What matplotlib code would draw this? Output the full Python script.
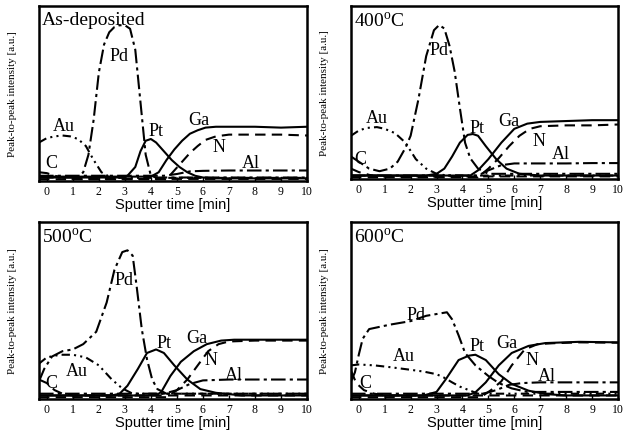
import matplotlib
matplotlib.use("Agg")
import matplotlib.pyplot as plt

plt.rcParams["font.family"] = ["Liberation Serif", "DejaVu Serif"]
plt.rcParams["mathtext.fontset"] = "custom"
plt.rcParams["mathtext.rm"] = "Liberation Serif"

# ---- As-deposited ----
a_c_x = [-0.3, 0, 0.3, 0.6, 1.0, 10]
a_c_y = [0.05, 0.045, 0.03, 0.02, 0.012, 0.012]
a_au_x = [-0.3, 0, 0.3, 0.6, 0.9, 1.2, 1.5, 1.8, 2.1, 2.4, 2.7, 10]
a_au_y = [0.22, 0.245, 0.255, 0.26, 0.255, 0.24, 0.2, 0.12, 0.05, 0.025, 0.018, 0.018]
a_pd_x = [-0.3, 1.2, 1.4, 1.6, 1.8, 2.0, 2.2, 2.4, 2.6, 2.8, 3.0, 3.2, 3.4, 3.6, 3.8, 4.0, 4.2, 10]
a_pd_y = [0.02, 0.02, 0.05, 0.15, 0.35, 0.62, 0.78, 0.85, 0.88, 0.89, 0.89, 0.87, 0.75, 0.45, 0.15, 0.03, 0.02, 0.02]
a_pt_x = [-0.3, 2.8, 3.1, 3.4, 3.6, 3.8, 4.0, 4.2, 4.5, 4.8, 5.1, 5.4, 5.7, 6.0, 6.5, 10]
a_pt_y = [0.02, 0.02, 0.03, 0.08, 0.17, 0.23, 0.24, 0.22, 0.17, 0.12, 0.08, 0.05, 0.03, 0.02, 0.015, 0.015]
a_ga_x = [-0.3, 4.0, 4.3, 4.6, 4.9, 5.2, 5.5, 5.8, 6.1, 6.5, 7, 8, 9, 10]
a_ga_y = [0.025, 0.025, 0.05, 0.12, 0.18, 0.23, 0.27, 0.29, 0.305, 0.31, 0.31, 0.31, 0.305, 0.31]
a_n_x = [-0.3, 4.6, 4.9, 5.2, 5.5, 5.8, 6.1, 6.5, 7, 8, 9, 10]
a_n_y = [0.01, 0.01, 0.06, 0.11, 0.16, 0.2, 0.235, 0.255, 0.265, 0.265, 0.265, 0.26]
a_al_x = [-0.3, 4.5, 5, 5.5, 6, 7, 8, 9, 10]
a_al_y = [0.03, 0.03, 0.04, 0.055, 0.058, 0.06, 0.06, 0.06, 0.06]

# ---- 400 C ----
b_c_x = [-0.3, 0, 0.5, 1.0, 10]
b_c_y = [0.06, 0.04, 0.02, 0.015, 0.015]
b_au_x = [-0.3, 0, 0.3, 0.7, 1.0, 1.4, 1.8, 2.2, 2.6, 3.0, 3.4, 10]
b_au_y = [0.25, 0.28, 0.295, 0.3, 0.29, 0.265, 0.21, 0.115, 0.06, 0.03, 0.02, 0.02]
b_pd_x = [-0.3, 0, 0.4, 0.8, 1.2, 1.5, 1.8, 2.0, 2.3, 2.6, 2.9, 3.1, 3.3, 3.5, 3.7, 3.9, 4.1, 4.3, 4.6, 5.0, 10]
b_pd_y = [0.13, 0.1, 0.06, 0.045, 0.06, 0.1, 0.18, 0.25, 0.46, 0.71, 0.86, 0.89, 0.87, 0.77, 0.62, 0.41, 0.21, 0.12, 0.06, 0.03, 0.03]
b_pt_x = [-0.3, 2.6, 3.0, 3.3, 3.6, 3.9, 4.2, 4.4, 4.6, 4.9, 5.3, 5.7, 6.2, 7.0, 10]
b_pt_y = [0.02, 0.02, 0.03, 0.06, 0.13, 0.21, 0.255, 0.26, 0.25, 0.19, 0.115, 0.06, 0.03, 0.02, 0.02]
b_ga_x = [-0.3, 4.3, 4.6, 5.0, 5.5, 6.0, 6.5, 7.0, 8.0, 9.0, 10]
b_ga_y = [0.02, 0.02, 0.05, 0.115, 0.21, 0.29, 0.32, 0.33, 0.335, 0.34, 0.34]
b_n_x = [-0.3, 4.6, 5.0, 5.4, 5.8, 6.2, 6.6, 7.0, 8, 9, 10]
b_n_y = [0.01, 0.01, 0.06, 0.12, 0.19, 0.25, 0.29, 0.305, 0.31, 0.31, 0.315]
b_al_x = [-0.3, 4.6, 5.0, 5.5, 6.0, 7, 8, 9, 10]
b_al_y = [0.02, 0.02, 0.05, 0.08, 0.09, 0.09, 0.09, 0.092, 0.092]

# ---- 500 C ----
c_c_x = [-0.3, 0, 0.3, 0.6, 1.0, 10]
c_c_y = [0.11, 0.09, 0.05, 0.03, 0.02, 0.02]
c_au_x = [-0.3, 0, 0.5, 1.0, 1.5, 2.0, 2.5, 2.9, 3.3, 10]
c_au_y = [0.2, 0.235, 0.25, 0.25, 0.235, 0.19, 0.11, 0.06, 0.03, 0.03]
c_pd_x = [-0.3, -0.1, 0.2, 0.6, 1.0, 1.4, 1.9, 2.3, 2.6, 2.9, 3.1, 3.3, 3.45, 3.65, 3.85, 4.05, 4.25, 4.6, 10]
c_pd_y = [0.1, 0.17, 0.24, 0.27, 0.28, 0.31, 0.38, 0.545, 0.73, 0.83, 0.84, 0.81, 0.64, 0.395, 0.225, 0.11, 0.056, 0.03, 0.03]
c_pt_x = [-0.3, 2.5, 2.8, 3.1, 3.5, 3.85, 4.2, 4.5, 4.9, 5.4, 5.9, 6.5, 7.5, 10]
c_pt_y = [0.02, 0.02, 0.03, 0.075, 0.17, 0.26, 0.28, 0.26, 0.19, 0.11, 0.056, 0.035, 0.02, 0.02]
c_ga_x = [-0.3, 4.2, 4.4, 4.75, 5.15, 5.65, 6.15, 6.7, 7.2, 8, 9, 10]
c_ga_y = [0.02, 0.02, 0.04, 0.13, 0.21, 0.27, 0.31, 0.33, 0.335, 0.335, 0.335, 0.335]
c_n_x = [-0.3, 4.6, 5.0, 5.4, 5.8, 6.2, 6.6, 7.0, 8, 9, 10]
c_n_y = [0.01, 0.01, 0.05, 0.11, 0.19, 0.27, 0.31, 0.325, 0.33, 0.33, 0.33]
c_al_x = [-0.3, 4.5, 5.0, 5.5, 6.0, 7, 8, 9, 10]
c_al_y = [0.03, 0.03, 0.05, 0.085, 0.105, 0.11, 0.11, 0.11, 0.11]

# ---- 600 C ----
d_c_x = [-0.3, -0.1, 0.2, 0.6, 1.0, 10]
d_c_y = [0.16, 0.09, 0.05, 0.03, 0.02, 0.02]
d_au_x = [-0.3, 0, 0.6, 1.2, 2.0, 2.5, 3.0, 3.3, 3.6, 3.9, 4.25, 4.6, 10]
d_au_y = [0.19, 0.195, 0.19, 0.18, 0.165, 0.155, 0.14, 0.12, 0.094, 0.07, 0.05, 0.03, 0.03]
d_pd_x = [-0.3, -0.15, 0.0, 0.15, 0.4, 1.2, 2.0, 2.6, 3.0, 3.4, 3.6, 3.85, 4.1, 4.5, 5.0, 5.4, 5.9, 6.5, 10]
d_pd_y = [0.1, 0.15, 0.25, 0.34, 0.395, 0.42, 0.44, 0.47, 0.48, 0.49, 0.45, 0.36, 0.26, 0.19, 0.13, 0.09, 0.06, 0.04, 0.04]
d_pt_x = [-0.3, 2.5, 3.0, 3.35, 3.85, 4.25, 4.5, 4.9, 5.4, 5.9, 6.55, 7.2, 8, 10]
d_pt_y = [0.02, 0.02, 0.04, 0.11, 0.22, 0.245, 0.25, 0.22, 0.14, 0.085, 0.047, 0.028, 0.02, 0.02]
d_ga_x = [-0.3, 4.2, 4.5, 4.9, 5.4, 5.9, 6.55, 7.2, 8.5, 10]
d_ga_y = [0.02, 0.02, 0.038, 0.094, 0.19, 0.26, 0.3, 0.316, 0.323, 0.32]
d_n_x = [-0.3, 4.7, 5.1, 5.5, 5.9, 6.4, 6.9, 7.5, 8.5, 10]
d_n_y = [0.01, 0.01, 0.05, 0.1, 0.19, 0.28, 0.31, 0.315, 0.32, 0.318]
d_al_x = [-0.3, 4.8, 5.3, 5.8, 6.3, 7, 8, 9, 10]
d_al_y = [0.03, 0.03, 0.05, 0.08, 0.09, 0.094, 0.094, 0.094, 0.094]

titles = ["As-deposited", "400$^{\\rm o}$C", "500$^{\\rm o}$C", "600$^{\\rm o}$C"]
xticks = [0, 1, 2, 3, 4, 5, 6, 7, 8, 9, 10]

# label positions (x, y) per panel: C, Au, Pd, Pt, Ga, N, Al
label_names = ["C", "Au", "Pd", "Pt", "Ga", "N", "Al"]
a_lab = [(0.19, 0.105), (0.64, 0.315), (2.77, 0.72), (4.18, 0.287), (5.85, 0.354), (6.62, 0.2), (7.84, 0.105)]
b_lab = [(0.06, 0.116), (0.7, 0.357), (3.08, 0.75), (4.56, 0.3), (5.78, 0.338), (6.94, 0.222), (7.78, 0.145)]
c_lab = [(0.19, 0.094), (1.16, 0.16), (2.96, 0.677), (4.5, 0.32), (5.78, 0.348), (6.3, 0.225), (7.2, 0.14)]
d_lab = [(0.26, 0.094), (1.74, 0.244), (2.19, 0.48), (4.56, 0.3), (5.72, 0.32), (6.68, 0.225), (7.26, 0.13)]

styles = {
    "C": (0, (5, 3)),
    "Au": (0, (4, 2, 1, 2, 1, 2)),
    "Pd": (0, (7, 2, 1.5, 2)),
    "Pt": "-",
    "Ga": "-",
    "N": (0, (5, 3)),
    "Al": (0, (7, 2, 1.5, 2)),
}

panels = [
    [(a_c_x, a_c_y), (a_au_x, a_au_y), (a_pd_x, a_pd_y), (a_pt_x, a_pt_y), (a_ga_x, a_ga_y), (a_n_x, a_n_y), (a_al_x, a_al_y)],
    [(b_c_x, b_c_y), (b_au_x, b_au_y), (b_pd_x, b_pd_y), (b_pt_x, b_pt_y), (b_ga_x, b_ga_y), (b_n_x, b_n_y), (b_al_x, b_al_y)],
    [(c_c_x, c_c_y), (c_au_x, c_au_y), (c_pd_x, c_pd_y), (c_pt_x, c_pt_y), (c_ga_x, c_ga_y), (c_n_x, c_n_y), (c_al_x, c_al_y)],
    [(d_c_x, d_c_y), (d_au_x, d_au_y), (d_pd_x, d_pd_y), (d_pt_x, d_pt_y), (d_ga_x, d_ga_y), (d_n_x, d_n_y), (d_al_x, d_al_y)],
]
labels = [a_lab, b_lab, c_lab, d_lab]

W, H = 624, 439
boxes = [(39, 7, 307, 182), (351, 7, 618, 180), (39, 223, 307, 400), (351, 223, 618, 400)]

fig = plt.figure(figsize=(W / 100, H / 100), dpi=100)

for i in range(4):
    l, t, r, b = boxes[i]
    ax = fig.add_axes([l / W, 1 - b / H, (r - l) / W, (b - t) / H])
    for name, (xs, ys) in zip(label_names, panels[i]):
        ax.plot(xs, ys, color="black", lw=1.5, linestyle=styles[name])
    for name, (lx, ly) in zip(label_names, labels[i]):
        ax.text(lx, ly, name, fontsize=13, ha="center", va="center")
    ax.text(0.01, 0.97, titles[i], transform=ax.transAxes, fontsize=14, ha="left", va="top")
    ax.set_xlim(-0.3, 10)
    ax.set_ylim(0, 1)
    ax.set_xticks(xticks)
    ax.set_xticklabels([str(v) for v in xticks], fontsize=8.5)
    ax.set_yticks([])
    ax.tick_params(axis="x", direction="in", length=3, width=1, pad=3)
    for s in ax.spines.values():
        s.set_linewidth(1.8)
    ax.set_xlabel("Sputter time [min]", fontsize=10.5, family=["Liberation Sans"], labelpad=0)
    ax.set_ylabel("Peak-to-peak intensity [a.u.]", fontsize=8)
    ax.yaxis.set_label_coords(-22 / (r - l), 0.5)

fig.savefig("out.png", dpi=100)
